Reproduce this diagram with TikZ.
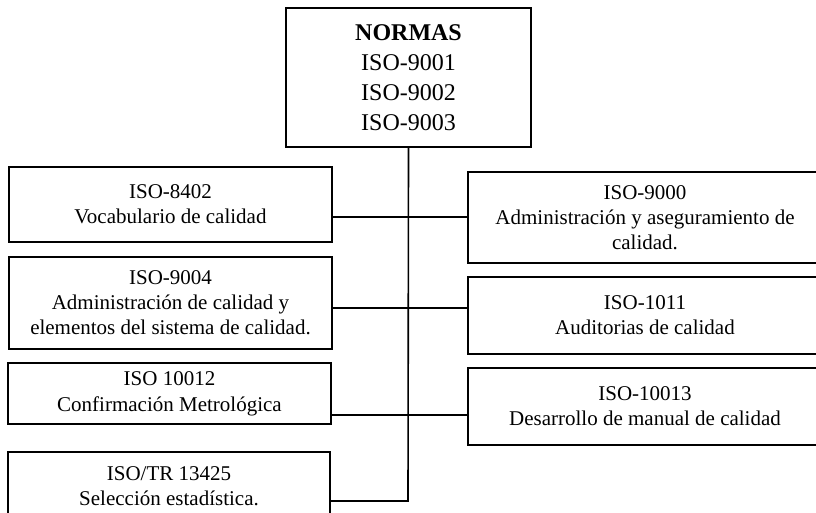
\documentclass[tikz,border=0pt]{standalone}
\usepackage{fontspec}
\setmainfont{Liberation Serif}
\begin{document}
\begin{tikzpicture}[x=1pt,y=-1pt,
  box/.style={draw, line width=1.6pt, rectangle, align=center, inner sep=0pt,
    font=\fontsize{21}{25}\selectfont},
  topbox/.style={box, font=\fontsize{24}{30}\selectfont},
  link/.style={line width=1.6pt}]
\useasboundingbox (0,0) rectangle (816,512);
% top
\node[topbox, minimum width=245pt, minimum height=139pt] (top) at (408.5,77.5)
  {\textbf{NORMAS}\\ISO-9001\\ISO-9002\\ISO-9003};
% left column
\node[box, minimum width=323pt, minimum height=75pt] (b8402) at (170.5,204.5)
  {ISO-8402\\Vocabulario de calidad};
\node[box, minimum width=323pt, minimum height=92pt] (b9004) at (170.5,303)
  {ISO-9004\\Administración de calidad y\\elementos del sistema de calidad.};
\node[box, minimum width=323pt, minimum height=61pt] (b10012) at (169.5,393.5)
  {ISO 10012\\[1pt]Confirmación Metrológica};
\node[box, minimum width=322pt, minimum height=68pt] (btr) at (169,486)
  {ISO/TR 13425\\Selección estadística.};
% right column
\node[box, minimum width=354pt, minimum height=91pt] (b9000) at (645,217.5)
  {ISO-9000\\Administración y aseguramiento de\\calidad.};
\node[box, minimum width=354pt, minimum height=77pt] (b1011) at (645,315.5)
  {ISO-1011\\Auditorias de calidad};
\node[box, minimum width=354pt, minimum height=77pt] (b10013) at (645,406.5)
  {ISO-10013\\Desarrollo de manual de calidad};
% junctions on trunk
\coordinate (j1) at (408,217);
\coordinate (j2) at (408,308);
\coordinate (j3) at (408,415);
\coordinate (jb) at (408,501);
% connectors
\draw[link] (top.south) -- (jb) -- (btr.east |- jb);
\draw[link] (b8402.east |- j1) -- (b9000.west |- j1);
\draw[link] (b9004.east |- j2) -- (b1011.west |- j2);
\draw[link] (b10012.east |- j3) -- (b10013.west |- j3);
\end{tikzpicture}
\end{document}
